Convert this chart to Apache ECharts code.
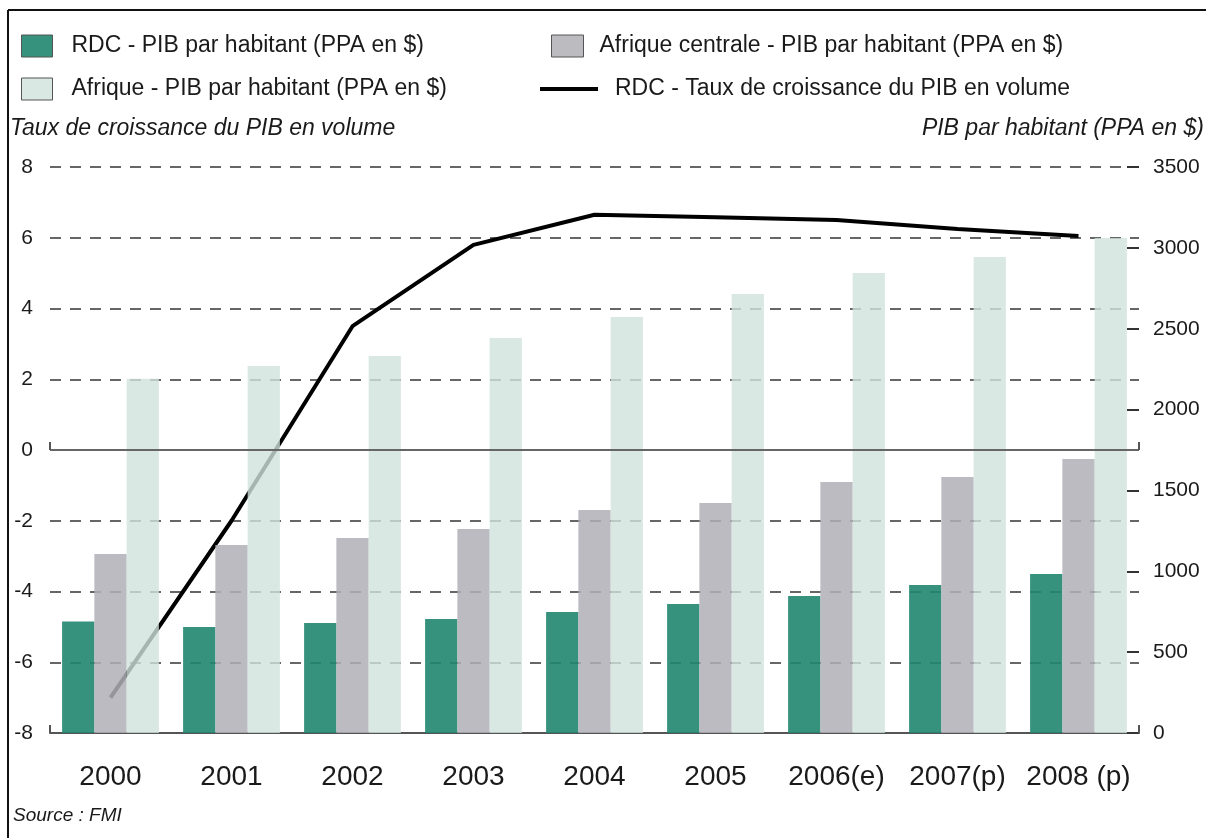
<!DOCTYPE html>
<html>
<head>
<meta charset="utf-8">
<script src="https://cdn.jsdelivr.net/npm/echarts@6/dist/echarts.min.js"></script>
<style>
html,body{margin:0;padding:0;background:#fff;}
#chart{width:1206px;height:838px;}
</style>
</head>
<body>
<div id="chart"></div>
<script>
const categories = ['2000','2001','2002','2003','2004','2005','2006(e)','2007(p)','2008 (p)'];
const rdcPib = [690, 655, 680, 705, 748, 798, 847, 915, 983];
const afCentralePib = [1107, 1163, 1206, 1262, 1379, 1422, 1552, 1583, 1694];
const afriquePib = [2190, 2270, 2331, 2443, 2572, 2715, 2845, 2944, 3061];
const rdcGrowth = [-7.0, -2.0, 3.5, 5.8, 6.65, 6.58, 6.5, 6.25, 6.05];
const leftTicks = {min: -8, max: 8, interval: 2};
const rightTicks = {min: 0, max: 3500, interval: 500};

const names = {
  rdc: 'RDC - PIB par habitant (PPA en $)',
  ac: 'Afrique centrale - PIB par habitant (PPA en $)',
  af: 'Afrique - PIB par habitant (PPA en $)',
  line: 'RDC - Taux de croissance du PIB en volume'
};

const FONT = 'Liberation Sans, Arial, sans-serif';
const GRID = {left: 50, right: 67, top: 167, bottom: 105};

const chart = echarts.init(document.getElementById('chart'), null, {renderer: 'canvas'});

function legendItem(name, left, top, icon, w, h, color, padLeft) {
  return {
    data: [{name: name, icon: icon, itemStyle: {color: color, borderColor: h > 6 ? '#555' : color, borderWidth: h > 6 ? 1 : 0, opacity: 1}}],
    left: left, top: top, itemWidth: w, itemHeight: h, orient: 'vertical', padding: 0,
    selectedMode: false,
    textStyle: {fontFamily: FONT, fontSize: 23, color: '#1a1a1a', padding: [0, 0, 0, padLeft], lineHeight: 24}
  };
}

const option = {
  animation: false,
  backgroundColor: '#fff',
  title: [
    {text: 'Taux de croissance du PIB en volume', left: 10, top: 117, padding: 0,
     textStyle: {fontFamily: FONT, fontSize: 23, fontStyle: 'italic', fontWeight: 'normal', color: '#1a1a1a'}},
    {text: 'PIB par habitant (PPA en $)', right: 2, top: 117, padding: 0,
     textStyle: {fontFamily: FONT, fontSize: 23, fontStyle: 'italic', fontWeight: 'normal', color: '#1a1a1a'}},
    {text: 'Source : FMI', left: 13, top: 806, padding: 0,
     textStyle: {fontFamily: FONT, fontSize: 19, fontStyle: 'italic', fontWeight: 'normal', color: '#1a1a1a'}}
  ],
  legend: [
    legendItem(names.rdc, 21, 34, 'rect', 31, 22, '#36917d', 14),
    legendItem(names.af, 21, 77, 'rect', 31, 22, '#d9e8e3', 14),
    legendItem(names.ac, 551, 34, 'rect', 32, 22, '#bcbbc0', 11),
    legendItem(names.line, 540, 77, 'rect', 58, 4, '#000', 12)
  ],
  grid: {left: GRID.left, right: GRID.right, top: GRID.top, bottom: GRID.bottom, containLabel: false},
  xAxis: {
    type: 'category', data: categories,
    axisLine: {show: true, onZero: false, lineStyle: {color: '#555', width: 2}},
    axisTick: {show: false},
    axisLabel: {fontFamily: FONT, fontSize: 28, color: '#1a1a1a', margin: 30, interval: 0, hideOverlap: false},
    splitLine: {show: false}
  },
  yAxis: [
    {type: 'value', min: leftTicks.min, max: leftTicks.max, interval: leftTicks.interval, position: 'left',
     axisLine: {show: false}, axisTick: {show: false},
     axisLabel: {fontFamily: FONT, fontSize: 21, color: '#1a1a1a', margin: 17},
     splitLine: {show: true, lineStyle: {color: '#666', width: 2, type: [11, 9]}}},
    {type: 'value', min: rightTicks.min, max: rightTicks.max, interval: rightTicks.interval, position: 'right',
     axisLine: {show: false},
     axisTick: {show: true, inside: true, length: 12, lineStyle: {color: '#333', width: 2}},
     axisLabel: {fontFamily: FONT, fontSize: 21, color: '#1a1a1a', margin: 14, formatter: v => String(v)},
     splitLine: {show: false}}
  ],
  series: [
    {name: names.line, type: 'line', yAxisIndex: 0, data: rdcGrowth, z: 1,
     showSymbol: false, symbol: 'none', lineStyle: {color: '#000', width: 4}, itemStyle: {color: '#000'},
     markLine: {silent: true, symbol: 'none', label: {show: false},
       lineStyle: {color: '#666', width: 2, type: 'solid'}, data: [{yAxis: 0}]}},
    {name: names.rdc, type: 'bar', yAxisIndex: 1, data: rdcPib, z: 3,
     barGap: '0%', barCategoryGap: '20%', itemStyle: {color: 'rgb(32,133,111)', opacity: 0.9}},
    {name: names.ac, type: 'bar', yAxisIndex: 1, data: afCentralePib, z: 3,
     barGap: '0%', barCategoryGap: '20%', itemStyle: {color: 'rgb(176,175,182)', opacity: 0.85}},
    {name: names.af, type: 'bar', yAxisIndex: 1, data: afriquePib, z: 3,
     barGap: '0%', barCategoryGap: '20%', itemStyle: {color: 'rgb(207,226,220)', opacity: 0.8}}
  ]
};
chart.setOption(option);

// decorative frame and axis hooks, positioned from the chart's own scales
const W = chart.getWidth(), H = chart.getHeight();
const xl = GRID.left, xr = W - GRID.right;
const y0 = chart.convertToPixel({yAxisIndex: 0}, 0);
const yb = chart.convertToPixel({yAxisIndex: 0}, leftTicks.min);
const hook = (x, y) => ({type: 'line', shape: {x1: x, y1: y - 8, x2: x, y2: y}, style: {stroke: '#555', lineWidth: 2}, z: 5});
chart.setOption({
  graphic: [
    {type: 'line', shape: {x1: 8, y1: 10, x2: W, y2: 10}, style: {stroke: '#111', lineWidth: 2}},
    {type: 'line', shape: {x1: 8, y1: 10, x2: 8, y2: H}, style: {stroke: '#111', lineWidth: 2}},
    hook(xl, y0), hook(xr, y0), hook(xl, yb), hook(xr, yb)
  ]
});
</script>
</body>
</html>
